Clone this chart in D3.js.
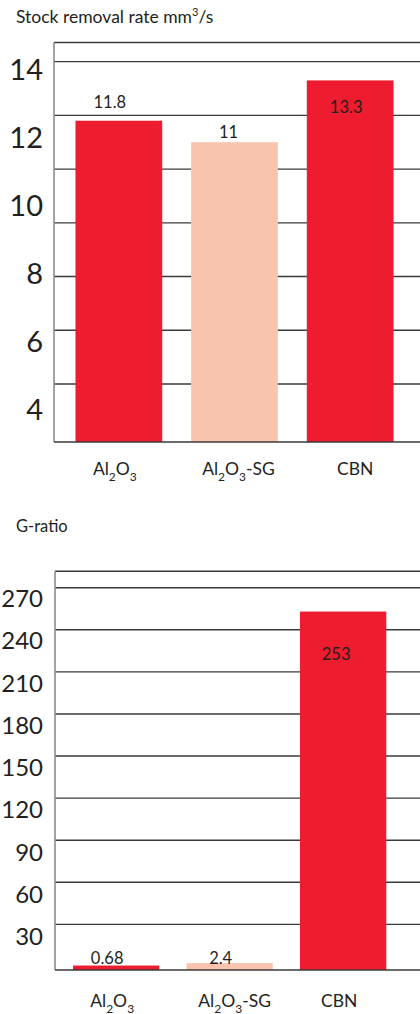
<!DOCTYPE html>
<html>
  <head>
    <meta charset="utf-8">
    <script src="https://d3js.org/d3.v7.min.js"></script>
    <style>
      body { margin: 0; background: #fff; }
      text { font-family: Lato, "Open Sans", sans-serif; fill: #231f20; }
    </style>
  </head>
<body>
  <script type="text/javascript">
    "use strict";

    // Data
    var categories = ["Al2O3", "Al2O3-SG", "CBN"];
    var removalRate = [11.8, 11, 13.3];
    var gRatio = [0.68, 2.4, 253];
    var removalTicks = [14, 12, 10, 8, 6, 4];
    var gRatioTicks = [270, 240, 210, 180, 150, 120, 90, 60, 30];
    var barColors = ["#ed1c2e", "#f9c4ae", "#ed1c2e"];

    var width = 420, height = 1014;

    var svg = d3.select("body").append("svg")
        .attr("width", width)
        .attr("height", height);

    // writes "Al2O3" style names with subscripts
    function chemLabel(sel, name) {
      var parts = name.match(/[A-Za-z\-]+|\d+/g);
      var low = false;
      parts.forEach(function (p) {
        var isSub = /^\d+$/.test(p);
        var dy = 0;
        if (isSub && !low) dy = 6;
        if (!isSub && low) dy = -6;
        var ts = sel.append("tspan").attr("dy", dy).text(p);
        if (isSub) ts.attr("font-size", "12px");
        low = isSub;
      });
    }

    function drawChart(opts) {
      var g = svg.append("g");

      var x = d3.scaleBand()
          .domain(categories)
          .range(opts.xRange)
          .paddingInner(opts.padIn)
          .paddingOuter(opts.padOut);

      var y = d3.scaleLinear().domain(opts.yDomain).range(opts.yRange);
      // tick labels sit on their own spacing in the original
      var yLabel = d3.scaleLinear().domain(opts.labelDomain).range(opts.labelRange);

      // frame top
      g.append("line")
          .attr("x1", opts.left).attr("x2", width)
          .attr("y1", opts.frameTop).attr("y2", opts.frameTop)
          .attr("stroke", "#3a3a3a").attr("stroke-width", 1.4);

      // gridlines
      g.selectAll(".grid").data(opts.grid).enter().append("line")
          .attr("x1", opts.left).attr("x2", width)
          .attr("y1", function (d) { return y(d); })
          .attr("y2", function (d) { return y(d); })
          .attr("stroke", "#3a3a3a").attr("stroke-width", 1.4);

      // bars
      g.selectAll(".bar").data(opts.values).enter().append("rect")
          .attr("x", function (d, i) { return x(categories[i]); })
          .attr("width", x.bandwidth())
          .attr("y", function (d) { return y(d); })
          .attr("height", function (d) { return opts.bottom - y(d); })
          .attr("fill", function (d, i) { return barColors[i]; });

      // left axis + bottom axis
      g.append("line")
          .attr("x1", opts.left).attr("x2", opts.left)
          .attr("y1", opts.frameTop).attr("y2", opts.bottom)
          .attr("stroke", "#8c8c8c").attr("stroke-width", 1.6);
      g.append("line")
          .attr("x1", opts.left).attr("x2", width)
          .attr("y1", opts.bottom).attr("y2", opts.bottom)
          .attr("stroke", "#3a3a3a").attr("stroke-width", 1.6);

      // tick labels
      g.selectAll(".tick").data(opts.ticks).enter().append("text")
          .attr("x", 43)
          .attr("y", function (d) { return yLabel(d); })
          .attr("text-anchor", "end")
          .attr("font-size", opts.tickSize)
          .text(function (d) { return d; });

      // value labels
      g.selectAll(".val").data(opts.values).enter().append("text")
          .attr("x", function (d, i) { return x(categories[i]) + x.bandwidth() / 2 + opts.valDx[i]; })
          .attr("y", function (d, i) { return y(d) + opts.valDy[i]; })
          .attr("text-anchor", "middle")
          .attr("font-size", "16.5px")
          .text(function (d) { return d; });

      // category labels
      categories.forEach(function (c, i) {
        var t = g.append("text")
            .attr("x", x(c) + x.bandwidth() / 2 + opts.catDx[i])
            .attr("y", opts.catY)
            .attr("text-anchor", "middle")
            .attr("font-size", "17.5px");
        chemLabel(t, c);
      });

      // title
      var title = g.append("text")
          .attr("x", 16).attr("y", opts.titleY)
          .attr("font-size", opts.titleSize);
      title.append("tspan").text(opts.title);
      if (opts.titleSup) {
        title.append("tspan").attr("font-size", "11px").attr("dy", -7).text("3");
        title.append("tspan").attr("dy", 7).text("/s");
      }
    }

    drawChart({
      title: "Stock removal rate mm", titleSup: true, titleY: 23, titleSize: "17.5px",
      values: removalRate, ticks: removalTicks, grid: [2, 4, 6, 8, 10, 12, 14],
      xRange: [61, 408], padIn: 0.25, padOut: 0.125,
      yDomain: [0, 14], yRange: [437.8, 61.6],
      labelDomain: [14, 4], labelRange: [80, 420], tickSize: "29px",
      left: 54, frameTop: 42.5, bottom: 442,
      valDx: [-9, -6, -4], valDy: [-13, -4, 33],
      catDx: [-4, 4, 5], catY: 475
    });

    drawChart({
      title: "G-ratio", titleSup: false, titleY: 532, titleSize: "16.5px",
      values: gRatio, ticks: gRatioTicks, grid: gRatioTicks,
      xRange: [59.4, 399.9], padIn: 0.24, padOut: 0.12,
      yDomain: [0, 270], yRange: [966.5, 587.7],
      labelDomain: [270, 30], labelRange: [607, 945], tickSize: "24px",
      left: 55, frameTop: 571.3, bottom: 970,
      valDx: [-9, -9, -7], valDy: [-2, 1, 48],
      catDx: [-4, 5, -4], catY: 1006.7
    });
  </script>
</body>
</html>
